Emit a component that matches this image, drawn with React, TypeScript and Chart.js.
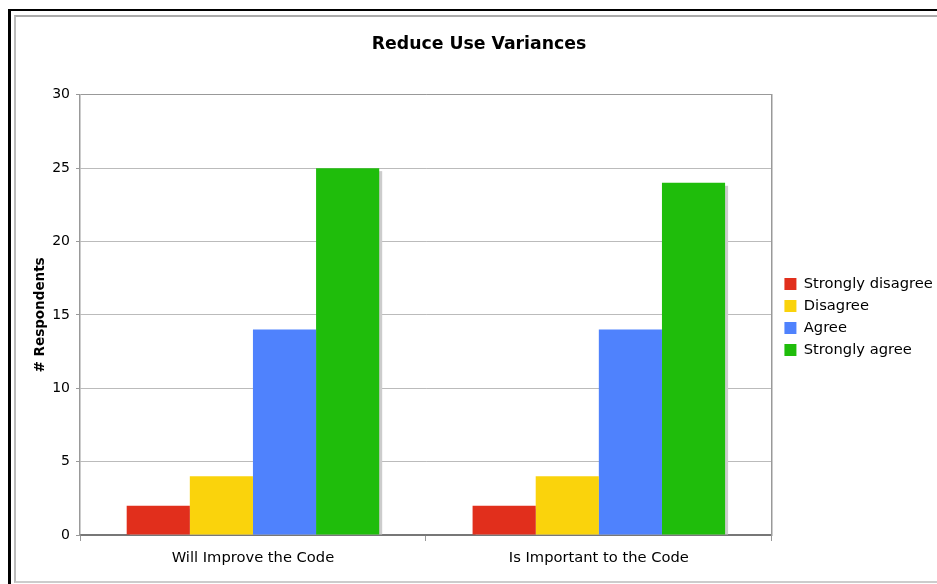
import React, { useEffect, useRef } from "react";
import { Chart, registerables } from "chart.js";

Chart.register(...registerables);

const categories = ["Will Improve the Code", "Is Important to the Code"];
const seriesNames = ["Strongly disagree", "Disagree", "Agree", "Strongly agree"];
const stronglyDisagree = [2, 2];
const disagree = [4, 4];
const agree = [14, 14];
const stronglyAgree = [25, 24];
const seriesColors = ["#e12f1c", "#fad30c", "#4f82fd", "#1fbd0b"];
const yTicks = [0, 5, 10, 15, 20, 25, 30];

const FONT = "'DejaVu Sans', Verdana, sans-serif";
const CW = 960;
const CH = 584;

// draws a flat grey drop shadow behind each bar, using the bar elements' own geometry
const shadowPlugin = {
  id: "barShadow",
  beforeDatasetsDraw(chart: any) {
    const ctx = chart.ctx;
    const area = chart.chartArea;
    ctx.save();
    ctx.beginPath();
    ctx.rect(area.left, area.top, area.right - area.left, area.bottom - area.top);
    ctx.clip();
    ctx.fillStyle = "#cccccc";
    chart.data.datasets.forEach((_: any, i: number) => {
      const meta = chart.getDatasetMeta(i);
      meta.data.forEach((bar: any) => {
        const p = bar.getProps(["x", "y", "base", "width"], true);
        const left = p.x - p.width / 2 + 3;
        const top = p.y + 3;
        ctx.fillRect(left, top, p.width, p.base - top);
      });
    });
    ctx.restore();
  },
};

// lets the right-hand legend keep the full width of its longest label
const legendWidthPlugin = {
  id: "legendWidth",
  beforeUpdate(chart: any) {
    const lg = chart.legend;
    if (lg && !lg.__widthPatched) {
      const orig = lg.fit;
      lg.fit = function (this: any) {
        orig.call(this);
        const pad = this.options.labels.padding;
        const cols = this.columnSizes || [];
        const need = pad + cols.reduce((s: number, c: any) => s + c.width, 0);
        if (need > this.width) this.width = need;
      };
      lg.__widthPatched = true;
    }
  },
};

export default function App() {
  const ref = useRef<HTMLCanvasElement | null>(null);

  useEffect(() => {
    if (!ref.current) return;
    const seriesValues = [stronglyDisagree, disagree, agree, stronglyAgree];
    const chart = new Chart(ref.current, {
      type: "bar",
      data: {
        labels: categories,
        datasets: seriesNames.map((name, i) => ({
          label: name,
          data: seriesValues[i],
          backgroundColor: seriesColors[i],
          borderWidth: 0,
          categoryPercentage: 0.73,
          barPercentage: 1,
        })),
      },
      plugins: [legendWidthPlugin, shadowPlugin],
      options: {
        responsive: false,
        animation: false,
        events: [],
        layout: { padding: { left: 25.2, right: 27.2, top: 0, bottom: 0 } },
        plugins: {
          title: {
            display: true,
            text: "Reduce Use Variances",
            color: "#000",
            font: { family: FONT, size: 17.3, weight: "bold" },
            padding: { top: 34, bottom: 40 },
          },
          legend: {
            position: "right",
            align: "center",
            title: {
              display: true,
              text: " ",
              color: "rgba(0,0,0,0)",
              font: { family: FONT, size: 10 },
              padding: { top: 38, bottom: 0 },
            },
            labels: {
              boxWidth: 12,
              boxHeight: 12,
              color: "#000",
              font: { family: FONT, size: 14.7 },
              padding: 7.3,
            },
          },
          tooltip: { enabled: false },
        },
        scales: {
          x: {
            grid: {
              offset: true,
              drawOnChartArea: false,
              drawTicks: true,
              tickLength: 6,
              color: "#999",
              tickColor: "#999",
            },
            border: { color: "#777", width: 2 },
            ticks: {
              color: "#000",
              font: { family: FONT, size: 14.7 },
              padding: 8,
            },
            afterFit: (s: any) => {
              s.height = 49;
            },
          },
          y: {
            min: 0,
            max: 30,
            afterBuildTicks: (s: any) => {
              s.ticks = yTicks.map((v) => ({ value: v }));
            },
            ticks: {
              color: "#000",
              font: { family: FONT, size: 14 },
              padding: 6,
            },
            grid: {
              color: (c: any) => (c.tick && c.tick.value === 30 ? "#999" : "#bbb"),
              tickColor: "#999",
              tickLength: 4,
            },
            border: { color: "#999", width: 1.5 },
            title: {
              display: true,
              text: "# Respondents",
              color: "#000",
              font: { family: FONT, size: 13.5, weight: "bold" },
              padding: { top: 6.7, bottom: 0 },
            },
            afterFit: (s: any) => {
              s.width = 54.8;
            },
          },
          y2: {
            position: "right",
            min: 0,
            max: 30,
            ticks: { display: false },
            grid: { display: false, drawTicks: false },
            border: { display: true, color: "#999", width: 1.5 },
            afterFit: (s: any) => {
              s.width = 5.35;
            },
          },
        },
      },
    } as any);
    chart.update();
    return () => chart.destroy();
  }, []);

  return (
    <div
      style={{
        position: "fixed",
        left: 0,
        top: 0,
        width: 937,
        height: 584,
        overflow: "hidden",
        background: "#fff",
      }}
    >
      <canvas
        ref={ref}
        width={CW}
        height={CH}
        style={{ position: "absolute", left: 0, top: 0, width: CW, height: CH, display: "block" }}
      />
      <div
        style={{
          position: "absolute",
          left: 8,
          top: 9,
          width: 1200,
          height: 1000,
          borderTop: "2px solid #000",
          borderLeft: "3px solid #000",
          pointerEvents: "none",
        }}
      />
      <div
        style={{
          position: "absolute",
          left: 14,
          top: 15,
          width: 1200,
          height: 564,
          borderTop: "2px solid #aaa",
          borderLeft: "2px solid #bbb",
          borderBottom: "2px solid #ccc",
          pointerEvents: "none",
        }}
      />
    </div>
  );
}
